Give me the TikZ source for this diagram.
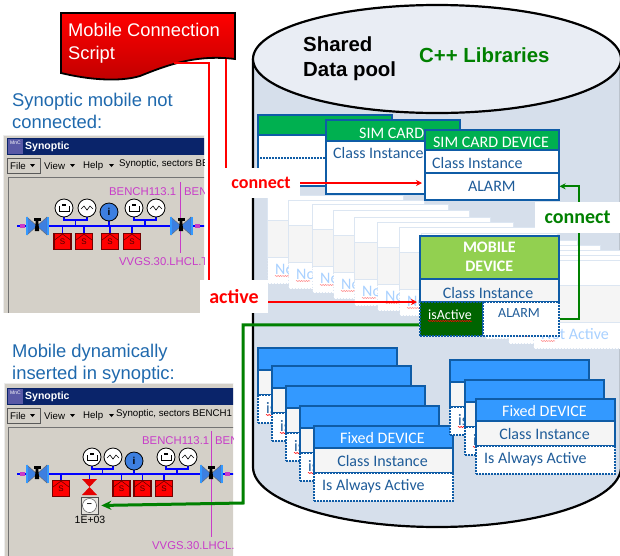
\documentclass[tikz,border=0pt]{standalone}
\usepackage{fontspec}
\usepackage{xcolor}
\usepackage{tikz}
\usetikzlibrary{arrows.meta,calc,decorations.pathmorphing}
\setmainfont{Liberation Sans}
\newfontfamily\calibri{Carlito}
\definecolor{poolbg}{HTML}{D6DFEB}
\definecolor{poollid}{HTML}{E9EDF4}
\definecolor{boxblue}{HTML}{0F5CA6}
\definecolor{boxink}{HTML}{1F5C99}
\definecolor{simgreen}{HTML}{00B050}
\definecolor{mobilegreen}{HTML}{92D050}
\definecolor{flaggreen}{HTML}{006400}
\definecolor{fixedblue}{HTML}{3399FF}
\definecolor{ghostline}{HTML}{DCE6F2}
\definecolor{ghostgray}{HTML}{F5F5F5}
\definecolor{ghostink}{HTML}{A9D1FF}
\definecolor{linkred}{HTML}{FF0000}
\definecolor{linkgreen}{HTML}{008000}
\definecolor{caption}{HTML}{1F69AD}
\definecolor{winbg}{HTML}{D4D0C8}
\definecolor{winnavy}{HTML}{0A246A}
\definecolor{benchpink}{HTML}{C83CC8}
\definecolor{busblue}{HTML}{0000FF}
\definecolor{valveblue}{HTML}{3D7FE0}
\tikzset{
  part/.style={draw=boxblue, line width=1.6pt, inner sep=0pt, anchor=north west},
  dotpart/.style={part, dash pattern=on 1.7pt off 1.3pt, fill=white},
  boxtext/.style={inner sep=0pt, text=boxink, font=\calibri\fontsize{16}{18}\selectfont},
  headtext/.style={boxtext, text=white},
  ghostpart/.style={draw=ghostline, line width=1.4pt, inner sep=0pt, anchor=north west, minimum width=136pt},
  ghosttext/.style={inner sep=0pt, anchor=west, text=ghostink, font=\calibri\fontsize{16}{18}\selectfont},
  wave/.style={draw=#1, line width=0.5pt, decorate, decoration={snake, amplitude=0.6pt, segment length=2.4pt}},
  caption/.style={inner sep=0pt, anchor=north west, align=left, text=caption, font=\fontsize{18.4}{22}\selectfont},
  linklabel/.style={fill=white, inner sep=0pt, font=\calibri\bfseries\fontsize{20}{22}\selectfont},
  redlink/.style={draw=linkred, line width=2pt},
  redarrow/.style={redlink, -{Stealth[length=6pt,width=6pt]}, shorten >=2pt},
  greenlink/.style={draw=linkgreen, line width=2pt},
  wintext/.style={inner sep=0pt, anchor=west, font=\fontsize{9.7}{11}\selectfont},
  benchtext/.style={inner sep=0pt, anchor=west, text=benchpink, font=\fontsize{11.3}{13}\selectfont},
  gauge/.style={circle, draw=black, fill=white, line width=0.8pt, minimum size=18pt, inner sep=0pt},
  sbox/.style={draw=red!45!black, fill=linkred, line width=1.3pt, inner sep=0pt, minimum width=17pt, minimum height=16pt, text=red!30!black, font=\fontsize{8}{8}\selectfont},
  bus/.style={draw=busblue, line width=1.8pt}
}
\newcommand{\GhostBox}[4]{% name,x,y,text
  \node[ghostpart, minimum height=62pt, fill=ghostgray] (#1body) at (#2,#3) {};
  \node[ghostpart, minimum height=25pt, fill=white] (#1head) at (#2,#3) {};
  \node[ghostpart, dash pattern=on 1.7pt off 1.3pt, minimum height=26pt, fill=white] (#1flag) at (#2,#3+62) {};
  \node[ghosttext] (#1text) at (#2+8,#3+74) {#4};
  \draw[wave=red!45] (#2+8,#3+81) -- ++(14,0);
}
\newcommand{\FixedDevice}[6]{% name,x,y,title,class,flag
  \node[part, fill=fixedblue, minimum width=139pt, minimum height=22pt] (#1head) at (#2,#3) {};
  \node[part, fill=ghostgray, minimum width=139pt, minimum height=25pt] (#1class) at (#2,#3+22) {};
  \node[dotpart, minimum width=139pt, minimum height=28pt] (#1flag) at (#2,#3+47) {};
  \node[headtext] (#1title) at (#2+69.5,#3+13) {#4};
  \node[boxtext] (#1inst) at (#2+69.5,#3+36) {#5};
  \node[boxtext, anchor=west] (#1state) at (#2+9,#3+61) {#6};
}
\newcommand{\BackDevice}[3]{% name,x,y
  \FixedDevice{#1}{#2}{#3}{}{}{isActive}
  \draw[wave=red] (#2+9,#3+68) -- ++(8,0);
}
\newcommand{\SynChrome}[4]{% y of window top,right edge,menu text x,menu text
  \fill[winnavy] (7,#1+3) rectangle (#2,#1+20);
  \fill[gray!70!blue] (8,#1+4) rectangle (23,#1+19);
  \node[inner sep=0pt, text=white, font=\fontsize{5}{6}\selectfont] at (15.5,#1+8) {MnC};
  \node[wintext, text=white, font=\bfseries\fontsize{10.5}{12}\selectfont] at (25,#1+12) {Synoptic};
  \draw[black!65, fill=winbg, line width=0.8pt] (7,#1+23) rectangle (40,#1+38);
  \node[wintext] at (10,#1+31) {File};
  \fill (30,#1+29) -- (35,#1+29) -- (32.5,#1+32) -- cycle;
  \node[wintext] at (44,#1+31) {View};
  \fill (70,#1+29) -- (75,#1+29) -- (72.5,#1+32) -- cycle;
  \node[wintext] at (83,#1+31) {Help};
  \fill (109,#1+29) -- (114,#1+29) -- (111.5,#1+32) -- cycle;
  \node[wintext] at (#3,#1+29) {#4};
  \draw[black!55, line width=1pt] (8,#1+200) -- (8,#1+42) -- (#2,#1+42);
}
\newcommand{\SynValve}[2]{% x,y
  \fill[valveblue, draw=black!60, line width=0.4pt] (#1-10,#2-9) -- (#1,#2) -- (#1-10,#2+9) -- cycle;
  \fill[valveblue, draw=black!60, line width=0.4pt] (#1+10,#2-9) -- (#1,#2) -- (#1+10,#2+9) -- cycle;
  \draw[draw=fixedblue, line width=2pt] (#1-10.5,#2-9) -- (#1-10.5,#2+9);
  \draw[draw=fixedblue, line width=2pt] (#1+10.5,#2-9) -- (#1+10.5,#2+9);
  \fill[black] (#1-3.5,#2-8) rectangle (#1+3.5,#2-5.5);
  \fill[black] (#1-1.2,#2-5.5) -- (#1+1.2,#2-5.5) -- (#1+2.2,#2+5) -- (#1-2.2,#2+5) -- cycle;
}
\newcommand{\SynTank}[3]{% name,x,y
  \node[gauge] (#1) at (#2,#3) {};
  \draw[black, line width=0.8pt] (#2-5,#3-2) -- (#2-5,#3+3) -- (#2+5,#3+3) -- (#2+5,#3-2);
  \fill[black] (#2-2,#3-4) rectangle (#2+2,#3-2);
}
\newcommand{\SynWave}[3]{% name,x,y
  \node[gauge] (#1) at (#2,#3) {};
  \draw[black, line width=0.6pt] (#2-6,#3+1) -- (#2-3,#3-2) -- (#2,#3+2) -- (#2+3,#3-2) -- (#2+6,#3+1);
}
\newcommand{\SynPair}[3]{% x of first gauge,x of second gauge,y of fork
  \draw[bus] (#1,#3-4) -- (#1,#3) -- (#2,#3) -- (#2,#3-4);
  \draw[bus] ({(#1+#2)/2},#3) -- ({(#1+#2)/2},#3+6);
}
\newcommand{\SynPump}[4]{% name,x,y,bus y
  \draw[bus] (#2,#4) -- (#2,#3);
  \node[sbox, anchor=north] (#1) at (#2,#3) {\raisebox{-3.5pt}{S}};
  \draw[red!35!black, line width=0.5pt] (#2-8,#3+7) -- (#2,#3+1) -- (#2+8,#3+7);
}
\begin{document}
\begin{tikzpicture}[x=1pt,y=-1pt]
  \useasboundingbox (0,0) rectangle (620,555);
  % the pool
  \draw[fill=poolbg, line width=2.2pt] (253,60) -- (253,467) arc[start angle=180, end angle=360, x radius=184pt, y radius=60pt] -- (621,60) -- cycle;
  \draw[fill=poollid, line width=2.2pt] (437,59) ellipse [x radius=184pt, y radius=54pt];
  \node[inner sep=0pt, anchor=north west, align=left, font=\bfseries\fontsize{20.4}{25}\selectfont] (pooltitle) at (303,37) {Shared\\Data pool};
  \node[inner sep=0pt, anchor=west, text=linkgreen, font=\bfseries\fontsize{20.4}{24}\selectfont] (poollibs) at (419,55) {C++ Libraries};

  % faded not active devices
  \GhostBox{ghosta}{267}{195}{Not Active}
  \GhostBox{ghostb}{288}{200}{Not Active}
  \GhostBox{ghostc}{312}{204}{Not Active}
  \GhostBox{ghostd}{333}{210}{Not Active}
  \GhostBox{ghoste}{354}{217}{Not Active}
  \GhostBox{ghostf}{377}{222}{Not Active}
  \GhostBox{ghostg}{399}{227}{Not Active}
  \GhostBox{ghosth}{421}{233}{}
  \GhostBox{ghosti}{441}{240}{}
  \GhostBox{ghostj}{464}{245}{}
  \GhostBox{ghostk}{485}{250}{}
  \GhostBox{ghostl}{508}{255}{}
  \GhostBox{ghostm}{533}{260}{Not Active}

  % sim card devices
  \node[part, fill=white, minimum width=134pt, minimum height=71pt] (simabody) at (257,114) {};
  \node[part, fill=simgreen, minimum width=134pt, minimum height=20pt] (simahead) at (257,114) {};
  \draw[boxblue, line width=1.6pt, dash pattern=on 1.7pt off 1.3pt] (257,158) -- (391,158);
  \node[part, fill=white, minimum width=134pt, minimum height=74pt] (simbbody) at (325,119) {};
  \node[part, fill=simgreen, minimum width=134pt, minimum height=21pt] (simbhead) at (325,119) {};
  \node[headtext, anchor=west] (simbtitle) at (359,133) {SIM CARD};
  \node[boxtext, anchor=west] (simbinst) at (333,153) {Class Instance};
  \node[part, fill=simgreen, minimum width=134pt, minimum height=20pt] (simhead) at (424,129) {};
  \node[part, fill=white, minimum width=134pt, minimum height=23pt] (simclass) at (424,149) {};
  \node[part, fill=white, minimum width=134pt, minimum height=27pt, font=\calibri\fontsize{16}{18}\selectfont, text=boxink] (simalarm) at (424,172) {ALARM};
  \node[headtext] (simtitle) at (491,142) {SIM CARD DEVICE};
  \node[boxtext, anchor=west] (siminst) at (432,163) {Class Instance};

  % mobile device
  \node[part, fill=mobilegreen, minimum width=139pt, minimum height=43pt, align=center, text=white, font=\calibri\bfseries\fontsize{16}{19}\selectfont] (mobilehead) at (419,235) {MOBILE\\DEVICE};
  \node[part, fill=ghostgray, minimum width=139pt, minimum height=23pt] (mobileclass) at (419,278) {};
  \node[boxtext] (mobileinst) at (488,293) {Class Instance};
  \node[dotpart, fill=flaggreen, minimum width=63pt, minimum height=34pt] (mobileflag) at (419,301) {};
  \node[dotpart, minimum width=76pt, minimum height=34pt] (mobilealarm) at (482,301) {};
  \node[boxtext, text=white, font=\calibri\fontsize{14}{16}\selectfont] (isactivetext) at (450,315) {isActive};
  \draw[wave=red] (428,321) -- (472,321);
  \node[boxtext, font=\calibri\fontsize{14}{16}\selectfont] (mobilealarmtext) at (519,313) {ALARM};

  % fixed devices
  \BackDevice{fixa}{257}{347}
  \BackDevice{fixb}{271}{365}
  \BackDevice{fixc}{285}{385}
  \BackDevice{fixd}{299}{405}
  \FixedDevice{fixe}{313}{425}{Fixed DEVICE}{Class Instance}{Is Always Active}
  \BackDevice{fixf}{449}{359}
  \BackDevice{fixg}{464}{379}
  \FixedDevice{fixh}{475}{398}{Fixed DEVICE}{Class Instance}{Is Always Active}

  % script
  \draw[draw=black, line width=1.8pt, top color=linkred, middle color=linkred, bottom color=red!75!black] (61,13) -- (235,13) -- (235,59) .. controls (195,54) and (165,66) .. (140,76) .. controls (120,82) and (90,80) .. (61,73) -- cycle;
  \node[inner sep=0pt, anchor=north west, align=left, text=white, font=\fontsize{18.3}{23}\selectfont] (script) at (68,23) {Mobile Connection\\Script};
  \coordinate (scriptconnect) at (226,59);
  \coordinate (scriptactive) at (174,63);

  % synoptic not connected
  \node[caption] (synoptictop) at (12,93) {Synoptic mobile not\\connected:};
  \begin{scope}
    \clip (3,135) rectangle (204,312);
    \draw[fill=winbg, draw=gray!15, line width=1pt] (3,135) rectangle (210,320);
    \SynChrome{135}{210}{119}{Synoptic, sectors BENCH1}
    \node[benchtext] (benchtop) at (109,192) {BENCH113.1};
    \node[benchtext] (benchtopb) at (184,192) {BENCH};
    \draw[benchpink, line width=0.7pt] (180.5,182) -- (180.5,253);
    \node[benchtext] (vvgstop) at (119,262) {VVGS.30.LHCL.T};
    \draw[bus] (17,226) -- (210,226);
    \fill[benchpink] (20,224) rectangle (25,228);
    \fill[benchpink] (195,224) rectangle (200,228);
    \SynValve{37}{226}
    \SynValve{181}{226}
    \SynPair{64}{87}{220}
    \SynPair{134}{156}{220}
    \draw[bus] (109,220) -- (109,226);
    \SynTank{gaugea}{64}{208}
    \SynWave{gaugeb}{87}{208}
    \node[gauge, fill=valveblue, font=\bfseries\fontsize{10}{10}\selectfont] (gaugec) at (109,212) {i};
    \SynTank{gauged}{134}{208}
    \SynWave{gaugee}{156}{208}
    \SynPump{pumpa}{62.5}{233}{226}
    \SynPump{pumpb}{84}{233}{226}
    \SynPump{pumpc}{110}{233}{226}
    \SynPump{pumpd}{132}{233}{226}
  \end{scope}

  % synoptic with mobile
  \node[caption] (synopticlow) at (12,344) {Mobile dynamically\\inserted in synoptic:};
  \begin{scope}
    \clip (4,383) rectangle (233,555);
    \draw[fill=winbg, draw=gray!15, line width=1pt] (4,383) rectangle (240,565);
    \SynChrome{385}{240}{116}{Synoptic, sectors BENCH1}
    \node[benchtext] (benchlow) at (142,441) {BENCH113.1};
    \node[benchtext] (benchlowb) at (215,441) {BENCH};
    \draw[benchpink, line width=0.7pt] (211,431) -- (211,537);
    \node[benchtext] (vvgslow) at (152,546) {VVGS.30.LHCL.T};
    \draw[bus] (17,474) -- (240,474);
    \fill[benchpink] (20,472) rectangle (25,476);
    \fill[benchpink] (225,472) rectangle (230,476);
    \SynValve{37}{474}
    \SynValve{211}{474}
    \SynPair{92}{113}{469}
    \SynPair{166}{188}{469}
    \draw[bus] (134,469) -- (134,474);
    \SynTank{gaugef}{92}{457}
    \SynWave{gaugeg}{113}{457}
    \node[gauge, fill=valveblue, font=\bfseries\fontsize{10}{10}\selectfont] (gaugeh) at (134,461) {i};
    \SynTank{gaugei}{166}{457}
    \SynWave{gaugej}{188}{457}
    \SynPump{pumpe}{61}{480}{474}
    \SynPump{pumpf}{121.5}{480}{474}
    \SynPump{pumpg}{142.5}{480}{474}
    \SynPump{pumph}{164}{480}{474}
    \draw[bus] (89.5,474) -- (89.5,479);
    \fill[red!90!black] (82,479) -- (97,479) -- (82,495) -- (97,495) -- cycle;
    \node[draw=black!70, fill=winbg!60!white, line width=0.6pt, inner sep=0pt, minimum size=17pt] (mobilegauge) at (89.5,505.5) {};
    \node[circle, draw=black!70, fill=white, line width=0.5pt, inner sep=0pt, minimum size=14pt, font=\bfseries\fontsize{9}{9}\selectfont] (mobiledial) at (89.5,505.5) {--};
    \node[inner sep=0pt, font=\fontsize{10.5}{12}\selectfont] (mobilevalue) at (90,520) {1E+03};
  \end{scope}

  % connect and active links
  \node[linklabel, text=linkred, minimum width=78pt, minimum height=30pt, font=\calibri\bfseries\fontsize{18}{20}\selectfont] (connectred) at (261,183) {connect};
  \node[linklabel, text=linkred, minimum width=68pt, minimum height=33pt] (activelabel) at (234,296.5) {active};
  \node[linklabel, text=linkgreen, minimum width=85pt, minimum height=31pt] (connectgreen) at (577.5,217.5) {connect};
  \coordinate (activeout) at ([yshift=-5.5pt]activelabel.east);
  \coordinate (greenbend) at (243,503);
  \draw[redlink] (scriptconnect) -- (scriptconnect |- connectred.north);
  \draw[redlink] (scriptactive) -| ([xshift=9.5pt]activelabel.north west);
  \draw[redarrow] (connectred.east) -- (connectred.east -| simalarm.west);
  \draw[redarrow] (activeout) -- (activeout -| mobileflag.west);
  \draw[greenlink] (mobilealarm.east) -| ([xshift=1.5pt]connectgreen.south);
  \draw[greenlink, -{Stealth[length=6pt,width=6pt]}] ([xshift=1.5pt]connectgreen.north) |- (simalarm.east);
  \draw[draw=linkgreen, line width=3pt, -{Stealth[length=10pt,width=9pt]}, shorten >=3pt] ([yshift=-6pt]mobileflag.west) -| (greenbend) -- (mobilegauge.east);
\end{tikzpicture}
\end{document}
